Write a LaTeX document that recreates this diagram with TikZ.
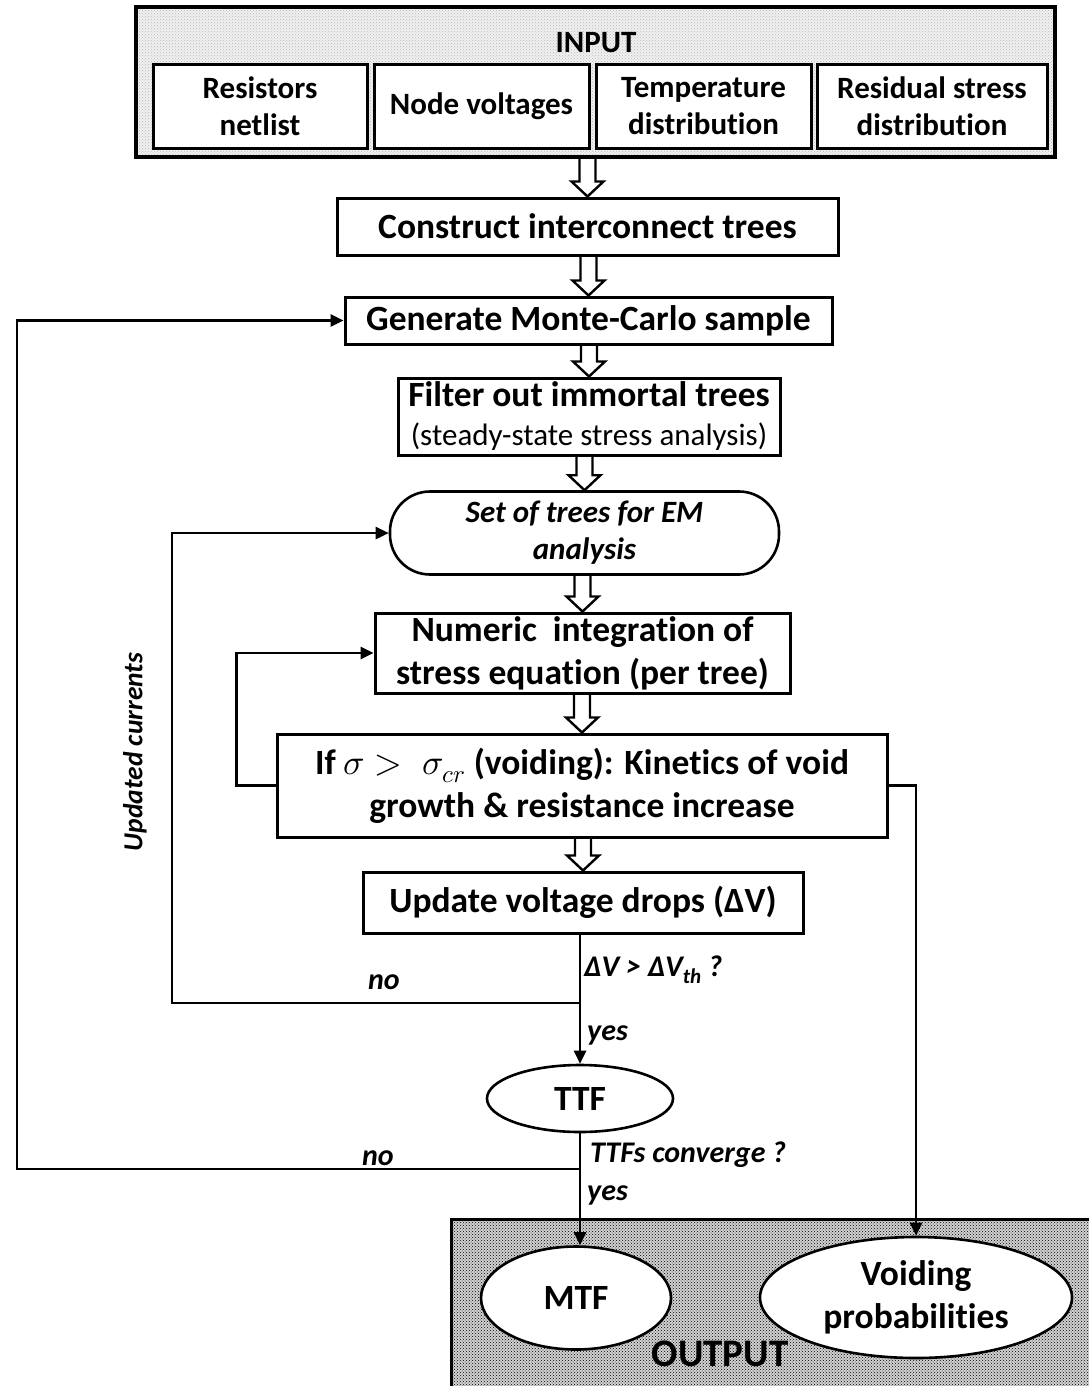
\documentclass[tikz,border=0pt]{standalone}
\usepackage{fontspec}
\usepackage{unicode-math}
\setmainfont{Carlito}[Ligatures=NoCommon]
\setmathfont{Latin Modern Math}
\usepackage{tikz}
\usetikzlibrary{shapes.geometric, arrows.meta, positioning, calc, patterns, backgrounds}

\newcommand{\boxfont}{\fontsize{35.5}{43}\selectfont\bfseries}
\newcommand{\infont}{\fontsize{31}{37}\selectfont\bfseries}
\newcommand{\subfont}{\fontsize{31}{37}\selectfont\mdseries}
\newcommand{\treefont}{\fontsize{31}{37}\selectfont\bfseries\itshape}
\newcommand{\lblfont}{\fontsize{30}{36}\selectfont\bfseries\itshape}
\newcommand{\curfont}{\fontsize{27.5}{33}\selectfont\bfseries\itshape}
\newcommand{\outfont}{\fontsize{39}{45}\selectfont\bfseries}

% hollow block arrow from the bottom of #1 to the top of #2
\newcommand{\hollowarrow}[2]{%
  \draw[hollow] let \p1=(#1.south), \p2=(#2.north) in
    (\x2-8pt,\y1) -- (\x2-8pt,\y2+15pt) -- (\x2-16pt,\y2+15pt) -- (\x2,\y2)
    -- (\x2+16pt,\y2+15pt) -- (\x2+8pt,\y2+15pt) -- (\x2+8pt,\y1);}

\begin{document}
\begin{tikzpicture}[
    x=1pt, y=-1pt,
    proc/.style={rectangle, draw, line width=3pt, fill=white, text centered, align=center, inner sep=0pt, font=\boxfont},
    inbox/.style={proc, line width=3pt, minimum height=83pt, font=\infont},
    term/.style={ellipse, draw, line width=2.6pt, fill=white, align=center, inner sep=0pt, font=\boxfont},
    lbl/.style={inner sep=0pt, font=\lblfont},
    flow/.style={line width=2.6pt, ->, >={Triangle[length=13pt,width=12pt]}},
    hollow/.style={draw, line width=2.4pt, fill=white, line join=miter}
  ]
  \useasboundingbox (0,0) rectangle (1088,1386);

  % input block
  \node (inp) [rectangle, draw, line width=3.4pt, minimum width=919pt, minimum height=150pt,
    preaction={fill=gray!12}, pattern=crosshatch dots, pattern color=gray!55] at (595.5,82) {};
  \node (inlbl) [font=\infont] at (596,43) {INPUT};
  \node (rnet) [inbox, minimum width=214pt] at (260,106.5) {Resistors\\netlist};
  \node (nvolt) [inbox, minimum width=215pt] at (481.5,106.5) {Node voltages};
  \node (tdist) [inbox, minimum width=215pt] at (703.5,106.5) {Temperature\\distribution};
  \node (rstress) [inbox, minimum width=230pt] at (932,106.5) {Residual stress\\distribution};

  % main flow
  \node (construct) [proc, minimum width=501pt, minimum height=57pt] at (587.5,226.5) {Construct interconnect trees};
  \node (generate) [proc, minimum width=487pt, minimum height=47pt] at (588.5,320.5) {Generate Monte-Carlo sample};
  \node (filter) [proc, minimum width=382pt, minimum height=77pt] at (589,416.5) {Filter out immortal trees\\[-4pt]{\subfont (steady-state stress analysis)}};
  \node (treeset) [proc, line width=2.6pt, rounded corners=40pt, minimum width=389pt, minimum height=83pt, font=\treefont] at (584.5,533) {Set of trees for EM\\analysis};
  \node (integrate) [proc, minimum width=415pt, minimum height=80pt] at (582.5,653) {Numeric~ integration of\\stress equation (per tree)};
  \node (kinetics) [proc, minimum width=610pt, minimum height=103pt] at (582,785.5) {If $\sigma > \;\sigma_{cr}$ (voiding): Kinetics of void\\growth \& resistance increase};
  \node (update) [proc, minimum width=440pt, minimum height=61pt] at (583,902.5) {Update voltage drops (ΔV)};
  \node (ttf) [term, minimum width=186pt, minimum height=67pt] at (580,1098.5) {TTF};

  % output block
  \node (outp) [rectangle, draw, line width=2.8pt, anchor=north west, minimum width=650pt, minimum height=180pt,
    preaction={fill=gray!35}, pattern=crosshatch dots, pattern color=black] at (450,1218) {};
  \node (outlbl) [font=\outfont] at (720,1354) {OUTPUT};
  \node (mtf) [term, minimum width=190pt, minimum height=103pt] at (576,1298) {MTF};
  \node (voidprob) [term, minimum width=312pt, minimum height=121pt] at (916,1297.5) {Voiding\\probabilities};

  \begin{scope}[on background layer]
    \hollowarrow{inp}{construct}
    \hollowarrow{construct}{generate}
    \hollowarrow{generate}{filter}
    \hollowarrow{filter}{treeset}
    \hollowarrow{treeset}{integrate}
    \hollowarrow{integrate}{kinetics}
    \hollowarrow{kinetics}{update}
  \end{scope}

  % decisions and loops
  \coordinate (chk) at (580,1003);
  \coordinate (inner) at (172,1003);
  \coordinate (conv) at (580,1169);
  \coordinate (outer) at (17,1169);

  \draw [flow] (ttf.north |- update.south) -- (ttf.north);
  \draw [flow] (chk) -- (inner) |- (treeset.west);
  \draw [flow] (ttf.south) -- (ttf.south |- mtf.north);
  \draw [flow] (conv) -- (outer) |- (generate.west);
  \draw [flow] (kinetics.west) -- ++(-39,0) |- (integrate.west);
  \draw [flow] (kinetics.east) -- (voidprob.north |- kinetics.east) -- (voidprob.north);

  \node (dvlbl) [lbl, anchor=west] at (584,970) {ΔV > ΔV\textsubscript{th} ?};
  \node (yes1) [lbl, anchor=west] at (587,1035) {yes};
  \node (no1) [lbl] at (384,982) {no};
  \node (convlbl) [lbl, anchor=west] at (590,1155) {TTFs converge ?};
  \node (no2) [lbl] at (378,1158) {no};
  \node (yes2) [lbl, anchor=west] at (587,1195) {yes};
  \node (curlbl) [lbl, rotate=90, font=\curfont] at (135,752) {Updated currents};
\end{tikzpicture}
\end{document}
